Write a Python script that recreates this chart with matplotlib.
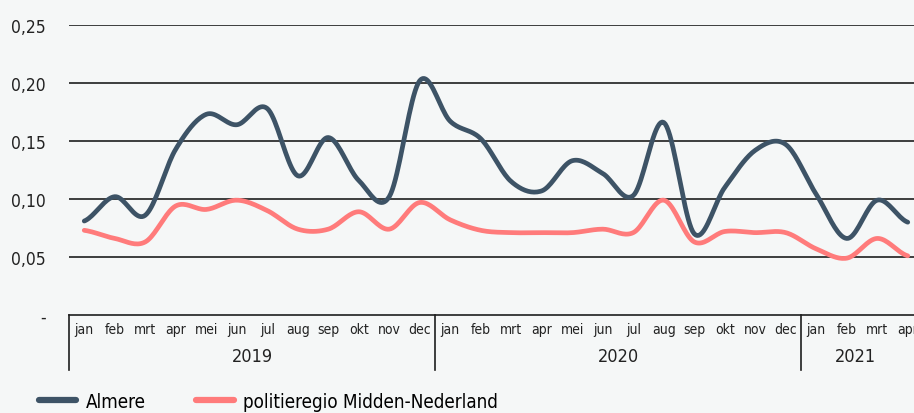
import numpy as np
import matplotlib
matplotlib.use("Agg")
import matplotlib.pyplot as plt
import matplotlib.transforms as mtransforms
from matplotlib.lines import Line2D

plt.rcParams['font.family'] = ['DejaVu Sans']
plt.rcParams['font.stretch'] = 'condensed'

# data
months = ['jan', 'feb', 'mrt', 'apr', 'mei', 'jun', 'jul', 'aug', 'sep', 'okt', 'nov', 'dec',
          'jan', 'feb', 'mrt', 'apr', 'mei', 'jun', 'jul', 'aug', 'sep', 'okt', 'nov', 'dec',
          'jan', 'feb', 'mrt', 'apr']
years = ['2019', '2020', '2021']
year_counts = [12, 12, 4]
almere = [0.081, 0.102, 0.086, 0.143, 0.173, 0.164, 0.178, 0.120, 0.153, 0.116, 0.102, 0.202,
          0.167, 0.152, 0.115, 0.107, 0.133, 0.122, 0.103, 0.166, 0.070, 0.110, 0.142, 0.147,
          0.104, 0.066, 0.099, 0.080]
regio = [0.073, 0.066, 0.063, 0.094, 0.091, 0.099, 0.090, 0.074, 0.074, 0.089, 0.074, 0.097,
         0.082, 0.073, 0.071, 0.071, 0.071, 0.074, 0.071, 0.099, 0.063, 0.072, 0.071, 0.071,
         0.057, 0.049, 0.066, 0.051]
yticks = [0, 0.05, 0.10, 0.15, 0.20, 0.25]
ytick_labels = ['-', '0,05', '0,10', '0,15', '0,20', '0,25']

c_almere = '#3d5366'
c_regio = '#ff7b7b'
bg = '#f5f7f7'


def smooth(y, n=20):
    # catmull-rom through the points, like excel's smoothed line
    y = np.asarray(y, dtype=float)
    p = np.concatenate([[y[0]], y, [y[-1]]])
    xs, ys = [], []
    t = np.linspace(0, 1, n, endpoint=False)
    for i in range(len(y) - 1):
        p0, p1, p2, p3 = p[i], p[i + 1], p[i + 2], p[i + 3]
        v = 0.5 * ((2 * p1) + (-p0 + p2) * t + (2 * p0 - 5 * p1 + 4 * p2 - p3) * t ** 2
                   + (-p0 + 3 * p1 - 3 * p2 + p3) * t ** 3)
        xs.extend(i + t)
        ys.extend(v)
    xs.append(len(y) - 1)
    ys.append(y[-1])
    return np.array(xs), np.array(ys)


fig = plt.figure(figsize=(9.14, 4.14), dpi=100, facecolor=bg)
W, H = 914, 414
ax = fig.add_axes([69 / W, (H - 316) / H, 854 / W, 290 / H])
ax.set_facecolor(bg)

n = len(months)
ax.set_xlim(-0.5, n - 0.5)
ax.set_ylim(0, 0.25)

for v in yticks[1:]:
    ax.axhline(v, color='#1e1e1e', lw=1.2, zorder=1)

x, y = smooth(almere)
ax.plot(x, y, color=c_almere, lw=3.4, solid_capstyle='round', zorder=3)
x, y = smooth(regio)
ax.plot(x, y, color=c_regio, lw=3.4, solid_capstyle='round', zorder=2)

for s in ['top', 'right', 'left']:
    ax.spines[s].set_visible(False)
ax.spines['bottom'].set_color('#1e1e1e')
ax.spines['bottom'].set_linewidth(1.2)

ax.set_yticks(yticks)
ax.set_yticklabels(ytick_labels, fontsize=12.5, color='#222222')
ax.tick_params(axis='y', length=0, pad=17)
ax.set_xticks([])

# two-level category axis
tr = mtransforms.blended_transform_factory(ax.transData, ax.transAxes)
for i, m in enumerate(months):
    ax.text(i, -0.05, m, transform=tr, ha='center', va='center', fontsize=10,
            color='#222222', clip_on=False)
start = 0
for yr, cnt in zip(years, year_counts):
    ax.plot([start - 0.5, start - 0.5], [0, -0.19], transform=tr, color='#1e1e1e',
            lw=1.2, clip_on=False)
    mid = start - 0.5 + cnt / 2 if cnt == 12 else start + 1.3
    ax.text(mid, -0.14, yr, transform=tr, ha='center', va='center', fontsize=13,
            color='#222222', clip_on=False)
    start += cnt

handles = [Line2D([], [], color=c_almere, lw=4.5, solid_capstyle='round'),
           Line2D([], [], color=c_regio, lw=4.5, solid_capstyle='round')]
fig.legend(handles, ['Almere', 'politieregio Midden-Nederland'], loc='lower left',
           bbox_to_anchor=(22 / W, -0.035), ncol=2, frameon=False, fontsize=13.5,
           handlelength=2.0, handletextpad=0.5, columnspacing=2.7)

fig.savefig('out.png', dpi=100, facecolor=bg)
